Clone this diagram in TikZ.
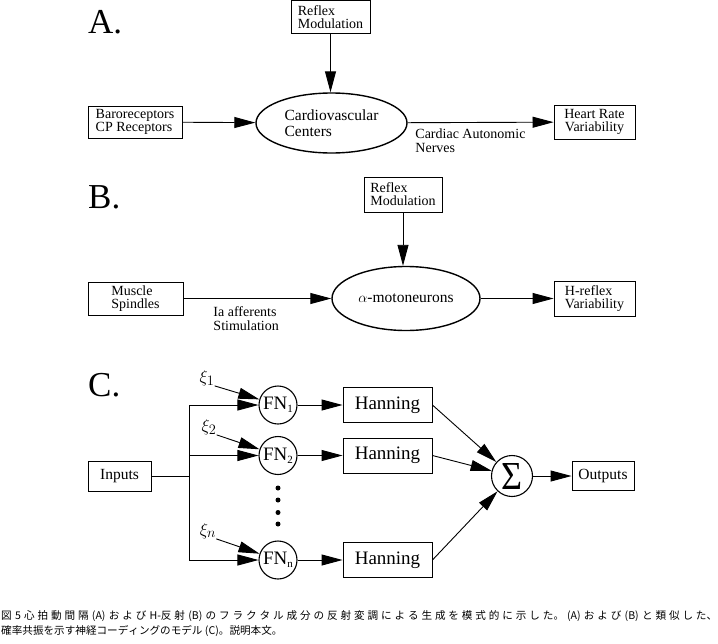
\documentclass[tikz,border=0pt]{standalone}
\usepackage{graphicx}
\usepackage{fontspec}
\setmainfont{Liberation Serif}
\newfontfamily\jpfont{Noto Sans CJK JP}
\usetikzlibrary{arrows.meta,shapes.geometric}
\begin{document}
\begin{tikzpicture}[x=1pt,y=-1pt,
  box/.style={draw, line width=0.9pt, inner sep=0pt, align=left, font=\fontsize{14}{13}\selectfont},
  ell/.style={draw, ellipse, line width=1.4pt, inner sep=0pt, align=left, font=\fontsize{15.5}{16}\selectfont},
  circ/.style={draw, circle, line width=1.1pt, inner sep=0pt},
  arr/.style={line width=0.9pt, -{Triangle[length=21pt,width=11pt]}},
  ln/.style={line width=0.9pt},
  lab/.style={inner sep=0pt, align=left, font=\fontsize{14}{14}\selectfont},
  big/.style={inner sep=0pt, font=\fontsize{35}{35}\selectfont},
  hbox/.style={draw, line width=0.9pt, inner sep=0pt, minimum width=89pt, minimum height=35pt, font=\fontsize{19}{19}\selectfont},
  xil/.style={inner sep=0pt, font=\fontsize{19}{19}\selectfont},
  dot/.style={circle, fill=black, inner sep=0pt, minimum size=5pt}
]
\useasboundingbox (0,0) rectangle (718,643);

% ---------- A ----------
\node[big, anchor=base west] (labA) at (88,33) {A.};
\node[box, minimum width=79pt, minimum height=33pt] (reflexA) at (330.5,17) {Reflex\\Modulation};
\node[ell, minimum width=151pt, minimum height=60pt] (cardio) at (331.5,123) {Cardiovascular\\Centers};
\node[box, minimum width=94pt, minimum height=32pt] (baro) at (135,122) {Baroreceptors\\CP Receptors};
\node[box, align=center, minimum width=81pt, minimum height=34pt] (hrv) at (594.5,122) {Heart Rate\\Variability};
\draw[arr] (reflexA.south) -- (reflexA.south |- cardio.north);
\draw[arr] (baro) -- (cardio);
\draw[arr] (cardio) -- node[lab, pos=0.05, anchor=north west, yshift=-6pt] {Cardiac Autonomic\\Nerves} (hrv);

% ---------- B ----------
\node[big, anchor=base west] (labB) at (88,208) {B.};
\node[box, minimum width=78pt, minimum height=35pt] (reflexB) at (403,194.5) {Reflex\\Modulation};
\node[ell, minimum width=148pt, minimum height=64pt] (moto) at (406,298.5) {$\alpha$-motoneurons};
\node[box, minimum width=95pt, minimum height=33pt] (spind) at (135.5,298.5) {Muscle\\Spindles};
\node[box, minimum width=81pt, minimum height=35pt] (hrefl) at (594.5,298.5) {H-reflex\\Variability};
\draw[arr] (reflexB.south) -- (reflexB.south |- moto.north);
\draw[arr] (spind) -- node[lab, pos=0.2, anchor=north west, yshift=-8pt] {Ia afferents\\Stimulation} (moto);
\draw[arr] (moto) -- (hrefl);

% ---------- C ----------
\node[big, anchor=base west] (labC) at (88,396) {C.};
\node[box, minimum width=63pt, minimum height=30pt, font=\fontsize{15.5}{15}\selectfont] (inputs) at (119.5,476) {Inputs};
\coordinate (jc) at (189,476);
\coordinate (j1) at (189,405);
\coordinate (j2) at (189,455.5);
\coordinate (jn) at (189,560);
\node[circ, minimum size=38pt, font=\fontsize{19}{19}\selectfont] (fn1) at (278,405) {FN\raisebox{-3pt}{\fontsize{11}{11}\selectfont 1}};
\node[circ, minimum size=38pt, font=\fontsize{19}{19}\selectfont] (fn2) at (278,455.5) {FN\raisebox{-3pt}{\fontsize{11}{11}\selectfont 2}};
\node[circ, minimum size=38pt, font=\fontsize{19}{19}\selectfont] (fnn) at (278,560) {FN\raisebox{-3pt}{\fontsize{11}{11}\selectfont n}};
\node[dot] (d1) at (278,488) {};
\node[dot] (d2) at (278,500) {};
\node[dot] (d3) at (278,512.5) {};
\node[dot] (d4) at (278,524) {};
\node[xil] (xi1) at (207,378) {$\xi_1$};
\node[xil] (xi2) at (209,427) {$\xi_2$};
\node[xil] (xin) at (208,531) {$\xi_n$};
\node[hbox] (h1) at (387.5,405) {Hanning};
\node[hbox] (h2) at (387.5,455.5) {Hanning};
\node[hbox] (hn) at (387.5,560) {Hanning};
\node[circ, minimum size=41pt] (sig) at (512,476) {\resizebox{21pt}{26pt}{Σ}};
\node[box, minimum width=62pt, minimum height=29pt, font=\fontsize{15.5}{15}\selectfont] (outputs) at (603,476) {Outputs};

\draw[ln] (inputs) -- (jc);
\draw[ln] (j1) -- (jn);
\draw[arr] (j1) -- (fn1);
\draw[arr] (j2) -- (fn2);
\draw[arr] (jn) -- (fnn);
\draw[arr] (xi1.south east) -- (fn1);
\draw[arr] (xi2.south east) -- (fn2);
\draw[arr] (xin.south east) -- (fnn);
\draw[arr] (fn1) -- (h1);
\draw[arr] (fn2) -- (h2);
\draw[arr] (fnn) -- (hn);
\draw[arr] (h1.east) -- (sig);
\draw[arr] (h2.east) -- (sig);
\draw[arr] (hn.east) -- (sig);
\draw[arr] (sig) -- (outputs);

% ---------- caption ----------
\node[anchor=north west, inner sep=0pt, text width=716pt, align=justify,
      font=\jpfont\fontsize{10.6}{15}\selectfont] (cap) at (1,610)
  {\XeTeXlinebreaklocale "ja"\XeTeXlinebreakskip=0pt plus 4pt\relax
   図 5 心拍動間隔 (A) および H-反射 (B) のフラクタル成分の反射変調による生成を模式的に示した。(A) および (B) と類似した、\linebreak 確率共振を示す神経コーディングのモデル (C)。説明本文。};
\end{tikzpicture}
\end{document}
